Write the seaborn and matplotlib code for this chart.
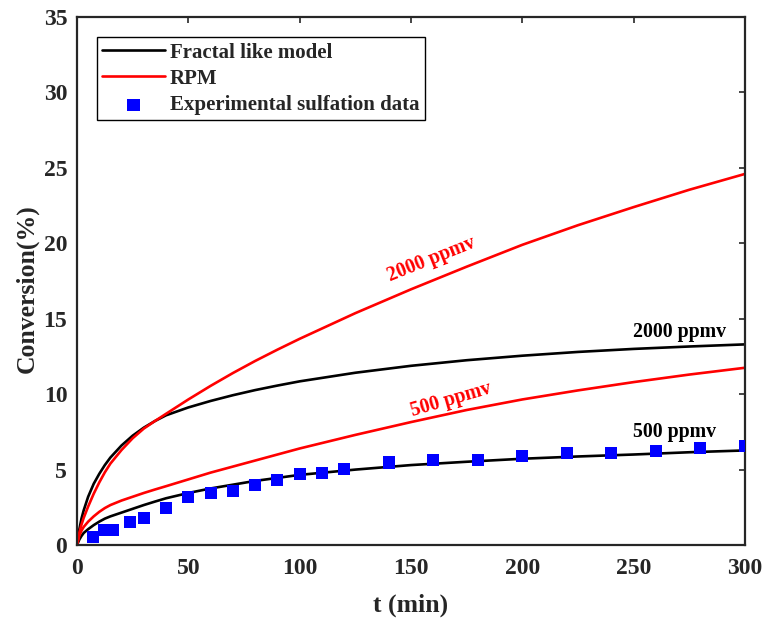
import numpy as np
import pandas as pd
import matplotlib
matplotlib.use("Agg")
import matplotlib.pyplot as plt
import seaborn as sns

# Model time grid (min)
t_model = [0, 1, 2, 3, 5, 7.5, 10, 12.5, 15, 20, 25, 30, 35, 40, 50, 60, 70,
           80, 90, 100, 125, 150, 175, 200, 225, 250, 275, 300]

# Fractal-like model conversions (%)
fractal_2000 = [0, 1.0, 1.75, 2.3, 3.2, 4.06, 4.72, 5.3, 5.8, 6.6, 7.25, 7.78,
                8.22, 8.6, 9.12, 9.55, 9.93, 10.27, 10.57, 10.85, 11.42, 11.88,
                12.25, 12.55, 12.8, 13.0, 13.16, 13.3]
fractal_500 = [0, 0.35, 0.6, 0.8, 1.05, 1.32, 1.55, 1.75, 1.9, 2.15, 2.4, 2.65,
               2.88, 3.1, 3.45, 3.75, 4.0, 4.25, 4.45, 4.65, 5.0, 5.3, 5.52,
               5.72, 5.87, 6.0, 6.15, 6.27]

# Random pore model conversions (%)
rpm_2000 = [0, 0.8, 1.35, 1.8, 2.55, 3.4, 4.15, 4.82, 5.4, 6.3, 7.08, 7.72,
            8.22, 8.7, 9.65, 10.55, 11.4, 12.2, 12.95, 13.67, 15.37, 16.95,
            18.45, 19.9, 21.2, 22.4, 23.55, 24.6]
rpm_500 = [0, 0.6, 0.95, 1.2, 1.55, 1.9, 2.2, 2.45, 2.65, 2.95, 3.2, 3.45,
           3.68, 3.9, 4.35, 4.8, 5.2, 5.6, 6.0, 6.4, 7.3, 8.15, 8.95, 9.65,
           10.25, 10.8, 11.3, 11.75]

# Experimental sulfation data (500 ppmv)
t_exp = [7, 12, 16, 24, 30, 40, 50, 60, 70, 80, 90, 100, 110, 120,
         140, 160, 180, 200, 220, 240, 260, 280, 300]
conv_exp = [0.53, 0.97, 1.02, 1.55, 1.77, 2.46, 3.21, 3.45, 3.6, 3.98, 4.31,
            4.7, 4.8, 5.02, 5.47, 5.64, 5.64, 5.93, 6.09, 6.09, 6.26, 6.46, 6.57]

models = ["Fractal like model", "RPM"]
model_colors = {"Fractal like model": "black", "RPM": "#FF0000"}

rows = []
for model, conc, vals in [("Fractal like model", "2000", fractal_2000),
                          ("Fractal like model", "500", fractal_500),
                          ("RPM", "2000", rpm_2000),
                          ("RPM", "500", rpm_500)]:
    for t, v in zip(t_model, vals):
        rows.append({"t": t, "conv": v, "model": model, "conc": conc})
curves = pd.DataFrame(rows)

sns.set_style("white")
plt.rcParams["font.family"] = ["Liberation Serif", "DejaVu Serif"]
plt.rcParams["font.weight"] = "bold"
plt.rcParams["axes.labelweight"] = "bold"
plt.rcParams["lines.solid_joinstyle"] = "round"

fig = plt.figure(figsize=(7.64, 6.19), dpi=100)
ax = fig.add_axes([0.1008, 0.1195, 0.8743, 0.853])

sns.lineplot(data=curves, x="t", y="conv", hue="model", units="conc",
             estimator=None, palette=model_colors, hue_order=models,
             linewidth=1.9, ax=ax, sort=False)
sns.scatterplot(x=t_exp, y=conv_exp, marker="s", s=75, color="#0000FF",
                edgecolor="none", label="Experimental sulfation data",
                ax=ax, zorder=3)

ax.set_xlim(0, 300)
ax.set_ylim(0, 35)
ax.set_xticks(np.arange(0, 301, 50))
ax.set_yticks(np.arange(0, 36, 5))
ax.tick_params(axis="x", pad=9)
ax.tick_params(axis="y", pad=7)
ax.tick_params(direction="in", length=4, width=1.2, top=True, right=True,
               labelsize=17, color="#262626")
for sp in ax.spines.values():
    sp.set_visible(True)
    sp.set_linewidth(1.6)
    sp.set_color("#262626")

ax.set_xlabel("t (min)", fontsize=18.5, labelpad=11)
ax.set_ylabel("Conversion(%)", fontsize=18.5)
ax.yaxis.set_label_coords(-0.058, 0.485)

handles, labels = ax.get_legend_handles_labels()
leg = ax.legend(handles, labels, loc="upper left", bbox_to_anchor=(0.03, 0.9616),
                borderaxespad=0, frameon=True, fancybox=False, framealpha=1,
                edgecolor="black", fontsize=15, handlelength=3.0,
                handletextpad=0.25, borderpad=0.25, labelspacing=0.3)
leg.get_frame().set_linewidth(1.0)

# Concentration labels on the curves
ax.text(159.3, 18.9, "2000 ppmv", color="#FF0000", rotation=21.8,
        ha="center", va="center", rotation_mode="anchor", fontsize=14.3)
ax.text(168.2, 9.6, "500 ppmv", color="#FF0000", rotation=16.3,
        ha="center", va="center", rotation_mode="anchor", fontsize=14.3)
ax.text(270.6, 14.1, "2000 ppmv", color="black", ha="center", va="center",
        fontsize=14.3)
ax.text(268.4, 7.47, "500 ppmv", color="black", ha="center", va="center",
        fontsize=14.3)

fig.savefig("out.png", dpi=100)
